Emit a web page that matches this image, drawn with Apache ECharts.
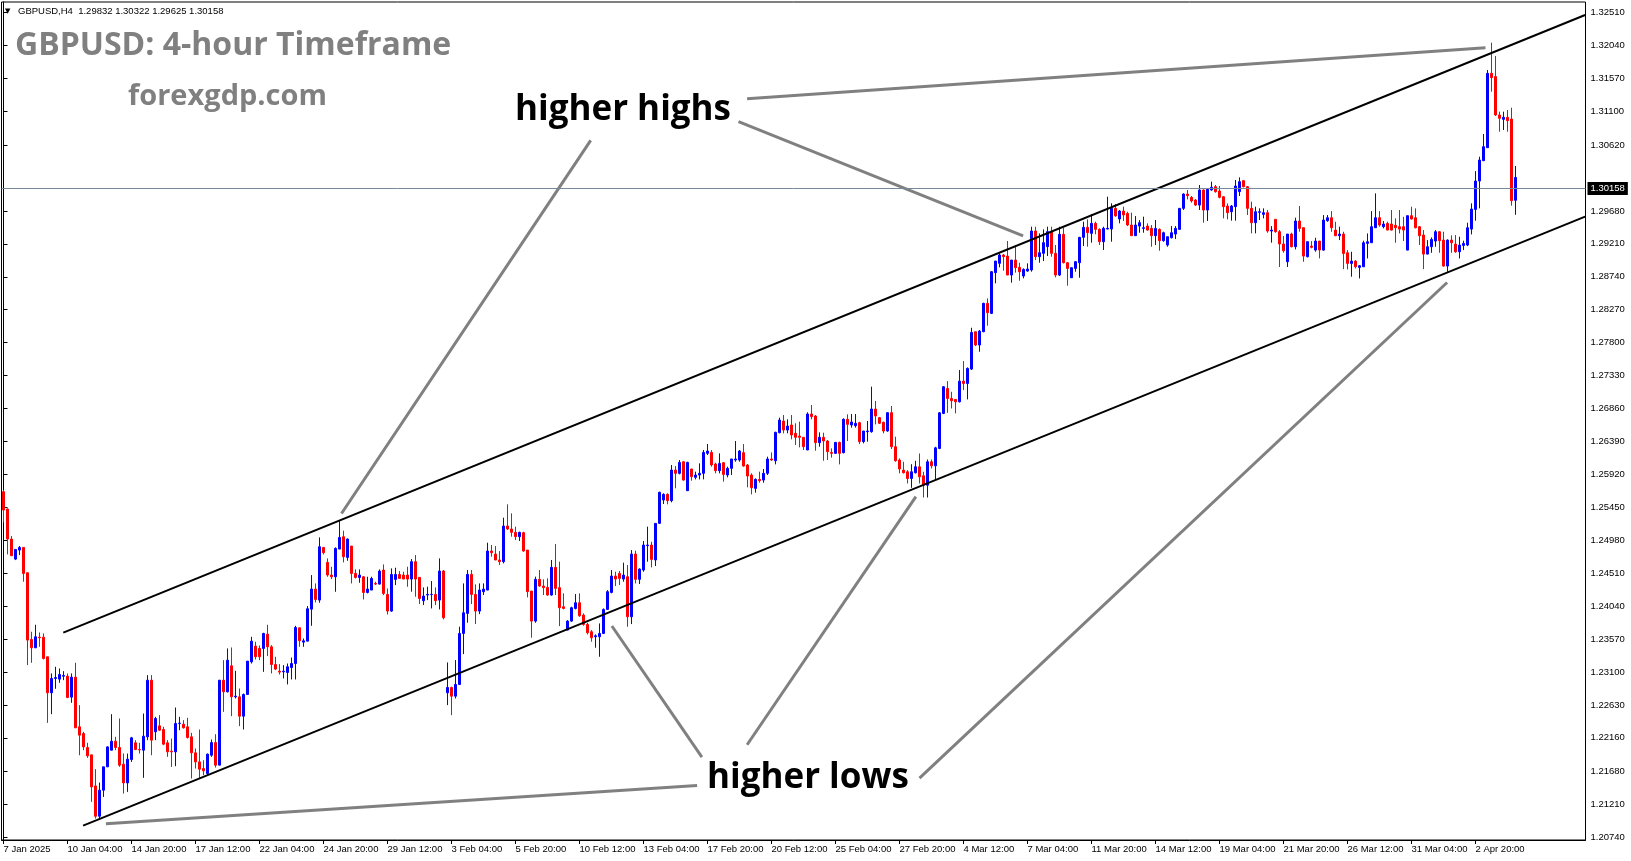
<!DOCTYPE html>
<html><head><meta charset="utf-8">
<script src="https://cdn.jsdelivr.net/npm/echarts@6/dist/echarts.min.js"></script>
<style>html,body{margin:0;padding:0;background:#fff}#c{width:1631px;height:861px}</style>
</head><body><div id="c"></div>
<script>
// ---------- data ----------
const symbolHeader = 'GBPUSD,H4  1.29832 1.30322 1.29625 1.30158';
const lastPrice = 1.30158;
const timeLabels = ['7 Jan 2025','10 Jan 04:00','14 Jan 20:00','17 Jan 12:00','22 Jan 04:00','24 Jan 20:00','29 Jan 12:00','3 Feb 04:00','5 Feb 20:00','10 Feb 12:00','13 Feb 04:00','17 Feb 20:00','20 Feb 12:00','25 Feb 04:00','27 Feb 20:00','4 Mar 12:00','7 Mar 04:00','11 Mar 20:00','14 Mar 12:00','19 Mar 04:00','21 Mar 20:00','26 Mar 12:00','31 Mar 04:00','2 Apr 20:00'];
const priceTicks = [1.20740,1.21210,1.21680,1.22160,1.22630,1.23100,1.23570,1.24040,1.24510,1.24980,1.25450,1.25920,1.26390,1.26860,1.27330,1.27800,1.28270,1.28740,1.29210,1.29680,1.30620,1.31100,1.31570,1.32040,1.32510];
// H4 bars: [open, high, low, close]
const ohlc = [
[1.25673,1.25697,1.25235,1.25411],[1.25425,1.25435,1.24778,1.24997],[1.24997,1.25040,1.24759,1.24759],[1.24711,1.24849,1.24697,1.24849],[1.24840,1.24897,1.24768,1.24878],
[1.24878,1.24878,1.24388,1.24507],[1.24516,1.24516,1.23198,1.23555],[1.23564,1.23674,1.23231,1.23445],[1.23445,1.23774,1.23445,1.23602],[1.23597,1.23664,1.23459,1.23588],
[1.23597,1.23650,1.23278,1.23293],[1.23317,1.23317,1.22374,1.22803],[1.22803,1.23079,1.22498,1.23007],[1.23007,1.23174,1.22860,1.23020],[1.22998,1.23150,1.22945,1.23064],
[1.23040,1.23112,1.22983,1.23050],[1.23040,1.23079,1.22726,1.22736],[1.22741,1.23079,1.22660,1.23026],[1.23026,1.23231,1.22303,1.22303],[1.22317,1.22627,1.21912,1.22198],
[1.22222,1.22246,1.21984,1.22031],[1.22022,1.22089,1.21874,1.21903],[1.21917,1.21917,1.21246,1.21460],[1.21474,1.21713,1.21008,1.21041],[1.21041,1.21522,1.20998,1.21413],
[1.21413,1.21746,1.21317,1.21746],[1.21746,1.22041,1.21746,1.22031],[1.21984,1.22498,1.21984,1.22112],[1.22112,1.22174,1.21984,1.22022],[1.22022,1.22436,1.21746,1.21770],
[1.21784,1.21936,1.21365,1.21517],[1.21517,1.21936,1.21389,1.21855],[1.21850,1.22174,1.21817,1.22160],[1.22089,1.22127,1.21984,1.21993],[1.21993,1.22089,1.21936,1.21989],
[1.21984,1.22507,1.21589,1.22184],[1.22174,1.23055,1.22127,1.22983],[1.22983,1.23055,1.21912,1.22127],[1.22246,1.22460,1.22127,1.22436],[1.22331,1.22484,1.22260,1.22269],
[1.22279,1.22317,1.22055,1.22070],[1.22089,1.22127,1.21889,1.21960],[1.21970,1.22150,1.21746,1.21960],[1.21960,1.22593,1.21755,1.22365],[1.22365,1.22460,1.22269,1.22370],
[1.22355,1.22412,1.22293,1.22303],[1.22317,1.22446,1.22150,1.22165],[1.22174,1.22231,1.21579,1.21946],[1.21946,1.22008,1.21722,1.21817],[1.21817,1.22279,1.21579,1.21713],
[1.21722,1.21841,1.21627,1.21689],[1.21651,1.21936,1.21627,1.21927],[1.21912,1.22136,1.21889,1.22093],[1.22093,1.22212,1.21736,1.21770],[1.21770,1.22983,1.21770,1.22983],
[1.22983,1.23269,1.22531,1.22817],[1.22817,1.23436,1.22807,1.23269],[1.23188,1.23450,1.22469,1.22745],[1.22745,1.23117,1.22722,1.22755],[1.22745,1.22864,1.22327,1.22469],
[1.22469,1.22793,1.22279,1.22779],[1.22779,1.23255,1.22779,1.23255],[1.23245,1.23602,1.23221,1.23540],[1.23469,1.23531,1.23278,1.23317],[1.23436,1.23478,1.23269,1.23317],
[1.23436,1.23659,1.23102,1.23650],[1.23640,1.23774,1.23326,1.23459],[1.23459,1.23483,1.23079,1.23207],[1.23207,1.23317,1.23126,1.23141],[1.23112,1.23212,1.23064,1.23098],
[1.23102,1.23198,1.23007,1.23112],[1.23093,1.23221,1.22922,1.23174],[1.23164,1.23307,1.22993,1.23221],[1.23221,1.23759,1.22993,1.23735],[1.23731,1.23731,1.23459,1.23545],
[1.23526,1.23578,1.23459,1.23545],[1.23540,1.24040,1.23540,1.24002],[1.23997,1.24483,1.23759,1.24283],[1.24283,1.24364,1.24092,1.24135],[1.24126,1.25021,1.24088,1.24887],
[1.24878,1.24878,1.24778,1.24802],[1.24664,1.24721,1.24459,1.24483],[1.24483,1.24602,1.24426,1.24459],[1.24459,1.24878,1.24245,1.24864],[1.24854,1.25254,1.24854,1.25021],
[1.25030,1.25116,1.24664,1.24745],[1.24735,1.25006,1.24687,1.24997],[1.24897,1.24897,1.24364,1.24507],[1.24507,1.24564,1.24435,1.24449],[1.24449,1.24564,1.24373,1.24483],
[1.24459,1.24469,1.24135,1.24235],[1.24235,1.24459,1.24221,1.24283],[1.24269,1.24459,1.24269,1.24435],[1.24364,1.24388,1.24340,1.24354],[1.24354,1.24564,1.24349,1.24540],
[1.24554,1.24635,1.24197,1.24221],[1.24207,1.24292,1.23921,1.23969],[1.23969,1.24578,1.23959,1.24492],[1.24421,1.24588,1.24340,1.24492],[1.24492,1.24540,1.24435,1.24435],
[1.24483,1.24530,1.24426,1.24426],[1.24483,1.24602,1.24316,1.24426],[1.24426,1.24712,1.24246,1.24674],[1.24674,1.24769,1.24174,1.24426],[1.24450,1.24450,1.24069,1.24150],
[1.24117,1.24307,1.24055,1.24184],[1.24198,1.24317,1.24126,1.24207],[1.24203,1.24398,1.24007,1.24207],[1.24207,1.24307,1.24055,1.24117],[1.24126,1.24721,1.23993,1.24541],
[1.24541,1.24555,1.23850,1.23874],[1.22803,1.23236,1.22627,1.22879],[1.22879,1.22889,1.22484,1.22755],[1.22755,1.23270,1.22722,1.22922],[1.22922,1.23746,1.22913,1.23650],
[1.23650,1.24364,1.23355,1.23945],[1.23936,1.24555,1.23803,1.24493],[1.24493,1.24555,1.24069,1.24207],[1.24207,1.24350,1.23784,1.23969],[1.23969,1.24364,1.23926,1.24269],
[1.24246,1.24364,1.24198,1.24283],[1.24269,1.24945,1.24269,1.24826],[1.24826,1.24912,1.24745,1.24802],[1.24783,1.24898,1.24698,1.24698],[1.24698,1.24826,1.24626,1.24674],
[1.24674,1.25302,1.24650,1.25183],[1.25183,1.25493,1.25126,1.25140],[1.25140,1.25364,1.25031,1.25093],[1.25093,1.25174,1.24983,1.25031],[1.25031,1.25102,1.24969,1.25093],
[1.25088,1.25102,1.24817,1.24826],[1.24840,1.24840,1.24165,1.24246],[1.24255,1.24255,1.23589,1.23826],[1.23826,1.24460,1.23803,1.24422],[1.24422,1.24555,1.24317,1.24326],
[1.24326,1.24422,1.24198,1.24303],[1.24307,1.24436,1.24188,1.24198],[1.24198,1.24698,1.24188,1.24593],[1.24593,1.24926,1.24198,1.24293],[1.24303,1.24674,1.23755,1.24017],
[1.24031,1.24222,1.23993,1.24007],[1.23698,1.23840,1.23698,1.23826],[1.23826,1.24031,1.23817,1.24017],[1.24007,1.24212,1.23993,1.24088],[1.24088,1.24222,1.23888,1.23902],
[1.23912,1.23936,1.23760,1.23779],[1.23779,1.23803,1.23636,1.23660],[1.23674,1.23698,1.23532,1.23589],[1.23603,1.23636,1.23446,1.23617],[1.23603,1.23793,1.23317,1.23650],
[1.23650,1.24007,1.23641,1.23993],[1.23993,1.24269,1.23984,1.24246],[1.24236,1.24555,1.24222,1.24469],[1.24469,1.24531,1.24326,1.24426],[1.24507,1.24541,1.24341,1.24436],
[1.24426,1.24660,1.24388,1.24483],[1.24460,1.24626,1.23746,1.23888],[1.23888,1.24840,1.23784,1.24783],[1.24783,1.24831,1.24364,1.24422],[1.24422,1.24579,1.24355,1.24569],
[1.24555,1.24969,1.24531,1.24912],[1.24902,1.25174,1.24674,1.24912],[1.24912,1.24959,1.24593,1.24707],[1.24698,1.25221,1.24612,1.25221],[1.25221,1.25673,1.25221,1.25664],
[1.25554,1.25650,1.25497,1.25635],[1.25635,1.25650,1.25493,1.25545],[1.25545,1.26054,1.25521,1.25982],[1.25982,1.26039,1.25721,1.25935],[1.25935,1.26125,1.25920,1.26091],
[1.26101,1.26101,1.25830,1.25839],[1.25687,1.26101,1.25687,1.26091],[1.25997,1.25997,1.25830,1.25887],[1.25878,1.25959,1.25849,1.25911],[1.25911,1.26077,1.25849,1.25935],
[1.25935,1.26268,1.25849,1.26234],[1.26220,1.26353,1.26197,1.26253],[1.26234,1.26268,1.26030,1.26054],[1.26068,1.26087,1.25935,1.25973],[1.25973,1.26220,1.25935,1.26077],
[1.26087,1.26096,1.25816,1.25920],[1.25911,1.26030,1.25878,1.26006],[1.26006,1.26140,1.25911,1.26140],[1.26125,1.26396,1.26101,1.26140],[1.26125,1.26268,1.26101,1.26253],
[1.26230,1.26353,1.26030,1.26039],[1.26054,1.26068,1.25735,1.25897],[1.25911,1.25935,1.25635,1.25730],[1.25720,1.25863,1.25659,1.25849],[1.25849,1.25959,1.25801,1.25830],
[1.25839,1.25997,1.25801,1.25935],[1.25935,1.26173,1.25911,1.26140],[1.26140,1.26234,1.26115,1.26125],[1.26115,1.26529,1.26063,1.26520],[1.26515,1.26730,1.26506,1.26696],
[1.26682,1.26768,1.26506,1.26553],[1.26553,1.26706,1.26506,1.26610],[1.26625,1.26768,1.26420,1.26482],[1.26506,1.26649,1.26339,1.26449],[1.26468,1.26672,1.26306,1.26449],
[1.26449,1.26449,1.26268,1.26315],[1.26268,1.26806,1.26268,1.26782],[1.26782,1.26910,1.26706,1.26744],[1.26753,1.26768,1.26258,1.26373],[1.26373,1.26520,1.26315,1.26449],
[1.26449,1.26515,1.26115,1.26396],[1.26396,1.26411,1.26125,1.26244],[1.26234,1.26292,1.26159,1.26220],[1.26220,1.26377,1.26220,1.26377],[1.26377,1.26387,1.26063,1.26220],
[1.26230,1.26720,1.26220,1.26706],[1.26706,1.26777,1.26396,1.26634],[1.26625,1.26782,1.26587,1.26668],[1.26615,1.26782,1.26587,1.26649],[1.26658,1.26672,1.26353,1.26387],
[1.26387,1.26539,1.26363,1.26539],[1.26529,1.26682,1.26387,1.26539],[1.26529,1.27172,1.26515,1.26853],[1.26853,1.26968,1.26634,1.26753],[1.26730,1.26740,1.26639,1.26649],
[1.26663,1.26672,1.26506,1.26539],[1.26539,1.26806,1.26529,1.26801],[1.26801,1.26896,1.26282,1.26315],[1.26315,1.26458,1.26101,1.26115],[1.26125,1.26149,1.25935,1.25997],
[1.25981,1.26100,1.25933,1.25943],[1.25957,1.25981,1.25790,1.25862],[1.25862,1.26066,1.25728,1.25957],[1.25943,1.26114,1.25933,1.26028],[1.26028,1.26219,1.25790,1.25886],
[1.25900,1.25957,1.25590,1.25766],[1.25766,1.26133,1.25590,1.26100],[1.26100,1.26133,1.26004,1.26042],[1.26042,1.26314,1.25838,1.26299],[1.26290,1.26809,1.26280,1.26799],
[1.26790,1.27180,1.26780,1.27171],[1.27147,1.27251,1.26799,1.27004],[1.27004,1.27099,1.26861,1.26971],[1.26990,1.26995,1.26790,1.26956],[1.26956,1.27409,1.26947,1.27251],
[1.27251,1.27537,1.27123,1.27218],[1.27218,1.27447,1.26990,1.27433],[1.27423,1.28013,1.27409,1.27946],[1.27956,1.27956,1.27751,1.27766],[1.27766,1.27980,1.27670,1.27965],
[1.27956,1.28370,1.27950,1.28361],[1.28361,1.28432,1.28042,1.28227],[1.28218,1.28822,1.28208,1.28813],[1.28799,1.28965,1.28646,1.28965],[1.28932,1.29075,1.28875,1.29051],
[1.29051,1.29065,1.28827,1.29027],[1.29036,1.29251,1.28765,1.28765],[1.28765,1.28979,1.28656,1.28979],[1.28979,1.29194,1.28799,1.28870],[1.28875,1.28941,1.28684,1.28813],
[1.28751,1.28860,1.28718,1.28846],[1.28822,1.28932,1.28813,1.28851],[1.28837,1.29455,1.28813,1.29394],[1.29394,1.29455,1.28979,1.29027],[1.29027,1.29360,1.28941,1.29084],
[1.29075,1.29417,1.28965,1.29227],[1.29170,1.29455,1.29036,1.29384],[1.29384,1.29455,1.29027,1.29075],[1.29075,1.29194,1.28732,1.28765],[1.28765,1.29455,1.28751,1.29346],
[1.29346,1.29441,1.28932,1.28941],[1.28941,1.28950,1.28613,1.28860],[1.28727,1.28875,1.28722,1.28870],[1.28860,1.28965,1.28813,1.28956],[1.28941,1.29310,1.28727,1.29303],
[1.29303,1.29527,1.29179,1.29446],[1.29446,1.29560,1.29170,1.29370],[1.29360,1.29636,1.29227,1.29503],[1.29503,1.29527,1.29346,1.29417],[1.29417,1.29432,1.29194,1.29241],
[1.29241,1.29455,1.29122,1.29432],[1.29422,1.29884,1.29417,1.29432],[1.29422,1.29789,1.29241,1.29717],[1.29717,1.29779,1.29600,1.29608],[1.29565,1.29693,1.29503,1.29679],
[1.29679,1.29741,1.29536,1.29622],[1.29645,1.29669,1.29464,1.29479],[1.29479,1.29655,1.29322,1.29327],[1.29327,1.29607,1.29322,1.29479],[1.29464,1.29550,1.29369,1.29512],
[1.29431,1.29598,1.29369,1.29441],[1.29464,1.29503,1.29398,1.29407],[1.29431,1.29479,1.29169,1.29327],[1.29327,1.29550,1.29193,1.29431],[1.29417,1.29431,1.29112,1.29255],
[1.29255,1.29384,1.29241,1.29369],[1.29193,1.29312,1.29169,1.29312],[1.29298,1.29464,1.29288,1.29369],[1.29350,1.29464,1.29279,1.29431],[1.29417,1.29717,1.29417,1.29717],
[1.29717,1.29931,1.29693,1.29921],[1.29921,1.29979,1.29845,1.29898],[1.29874,1.29893,1.29798,1.29822],[1.29836,1.29850,1.29750,1.29764],[1.29764,1.30050,1.29693,1.29979],
[1.29979,1.29988,1.29512,1.29693],[1.29693,1.29988,1.29536,1.29988],[1.29979,1.30098,1.29969,1.30017],[1.30026,1.30050,1.29941,1.29955],[1.29964,1.30036,1.29860,1.29874],
[1.29883,1.29893,1.29574,1.29741],[1.29750,1.29788,1.29560,1.29655],[1.29669,1.29764,1.29541,1.29750],[1.29741,1.30121,1.29541,1.30036],[1.29955,1.30159,1.29893,1.30098],
[1.30112,1.30121,1.30017,1.30026],[1.30026,1.30036,1.29622,1.29717],[1.29717,1.29812,1.29360,1.29512],[1.29512,1.29741,1.29360,1.29669],[1.29660,1.29717,1.29550,1.29669],
[1.29631,1.29717,1.29574,1.29655],[1.29655,1.29693,1.29369,1.29393],[1.29393,1.29464,1.29227,1.29407],[1.29560,1.29560,1.29369,1.29384],[1.29384,1.29407,1.28880,1.29208],
[1.29208,1.29322,1.29084,1.29112],[1.28955,1.29350,1.28880,1.29350],[1.29350,1.29369,1.29160,1.29169],[1.29169,1.29584,1.29131,1.29536],[1.29536,1.29750,1.29384,1.29431],
[1.29441,1.29441,1.28955,1.29036],[1.29027,1.29241,1.29017,1.29241],[1.29179,1.29250,1.29146,1.29160],[1.29122,1.29298,1.29098,1.29250],[1.29250,1.29250,1.29003,1.29122],
[1.29121,1.29621,1.29111,1.29550],[1.29540,1.29621,1.29526,1.29583],[1.29583,1.29678,1.29383,1.29440],[1.29407,1.29526,1.29321,1.29326],[1.29326,1.29455,1.29264,1.29350],
[1.29350,1.29383,1.28850,1.29074],[1.29083,1.29121,1.28845,1.28931],[1.28931,1.29097,1.28741,1.28964],[1.28964,1.28978,1.28859,1.28883],[1.28874,1.28907,1.28717,1.28898],
[1.28883,1.29255,1.28883,1.29226],[1.29217,1.29359,1.29002,1.29240],[1.29226,1.29678,1.29226,1.29455],[1.29440,1.29931,1.29440,1.29583],[1.29583,1.29678,1.29455,1.29478],
[1.29455,1.29536,1.29431,1.29493],[1.29502,1.29526,1.29407,1.29407],[1.29493,1.29693,1.29400,1.29407],[1.29474,1.29574,1.29226,1.29440],[1.29455,1.29693,1.29359,1.29421],
[1.29455,1.29597,1.29250,1.29407],[1.29121,1.29612,1.29121,1.29612],[1.29612,1.29740,1.29560,1.29564],[1.29583,1.29717,1.29431,1.29440],[1.29455,1.29464,1.29193,1.29326],
[1.29336,1.29407,1.28850,1.29064],[1.29064,1.29264,1.29060,1.29169],[1.29169,1.29302,1.29083,1.29274],[1.29250,1.29407,1.29169,1.29383],[1.29383,1.29393,1.29083,1.29255],
[1.29264,1.29383,1.28883,1.28893],[1.28893,1.29274,1.28812,1.29264],[1.29264,1.29331,1.29083,1.29226],[1.29207,1.29336,1.29083,1.29097],[1.29097,1.29312,1.29002,1.29193],
[1.29188,1.29255,1.29121,1.29217],[1.29193,1.29512,1.29178,1.29440],[1.29421,1.29788,1.29345,1.29707],[1.29702,1.30249,1.29540,1.30107],[1.30107,1.30454,1.29717,1.30407],
[1.30397,1.30778,1.30392,1.30597],[1.30583,1.31692,1.30583,1.31644],[1.31644,1.32082,1.31382,1.31582],[1.31597,1.31892,1.31035,1.31049],[1.31049,1.31097,1.30811,1.31002],
[1.30987,1.31097,1.30835,1.31016],[1.31016,1.31121,1.30811,1.30968],[1.30992,1.31154,1.29755,1.29826],[1.29832,1.30322,1.29625,1.30158]
];
// trend channel ([bar index, price] end points)
const channelUpper = [[14.95,1.23661],[395.4,1.32477]];
const channelLower = [[19.9,1.20907],[395.4,1.29598]];
// pointer lines from the annotations
const highPointers = [
  [[185.9,1.31281],[370.5,1.32009]],
  [[183.75,1.30954],[254.9,1.29323]],
  [[146.8,1.30687],[84.5,1.25362]]
];
const lowPointers = [
  [[173.4,1.21481],[25.6,1.20933]],
  [[174.6,1.21886],[152.1,1.23756]],
  [[185.9,1.22061],[228.1,1.25602]],
  [[229.0,1.21585],[360.9,1.28659]]
];

// ---------- chart ----------
const SLOTS = 396;           // bar slots incl. empty space at the right
const LABEL_EVERY = 16;
const categories = Array.from({length: SLOTS}, (_, i) => String(i));
const candleData = ohlc.map(r => [r[0], r[3], r[2], r[1]]);
const showTick = (i) => i % LABEL_EVERY === 0 && (i / LABEL_EVERY) < timeLabels.length;
const smallFont = '"Liberation Sans", Arial, sans-serif';
const SMALL = 9.5;

const lineSeries = (pts, color, width) => ({
  type: 'line', xAxisIndex: 1, yAxisIndex: 0, data: pts, symbol: 'none',
  silent: true, z: 4, animation: false,
  lineStyle: { color: color, width: width }
});

const series = [{
  type: 'candlestick', xAxisIndex: 0, yAxisIndex: 0, data: candleData,
  barWidth: 2,
  itemStyle: { color: '#0000FF', color0: '#FF0000', borderColor: '#0000FF', borderColor0: '#FF0000', borderWidth: 1 },
  markLine: {
    silent: true, symbol: ['none', 'none'], animation: false,
    lineStyle: { color: '#778899', width: 1, type: 'solid' },
    label: { show: true, position: 'end', distance: 2, formatter: lastPrice.toFixed(5),
      backgroundColor: '#000', color: '#fff', padding: [2, 3, 1, 3], fontSize: SMALL, fontFamily: smallFont },
    data: [{ yAxis: lastPrice }]
  }
}];
series.push(lineSeries(channelUpper, '#000', 2));
series.push(lineSeries(channelLower, '#000', 2));
highPointers.forEach(p => series.push(lineSeries(p, '#808080', 3)));
lowPointers.forEach(p => series.push(lineSeries(p, '#808080', 3)));

const chart = echarts.init(document.getElementById('c'), null, { renderer: 'canvas' });
chart.setOption({
  animation: false,
  backgroundColor: '#fff',
  grid: { left: 1.5, top: 2, width: 1584, height: 838, show: true, borderColor: '#000', borderWidth: 1, backgroundColor: '#fff' },
  xAxis: [{
    type: 'category', data: categories, boundaryGap: true,
    axisLine: { show: true, lineStyle: { color: '#000', width: 1 } },
    axisTick: { show: true, alignWithLabel: true, interval: showTick, length: 4, lineStyle: { color: '#000' } },
    axisLabel: { show: true, interval: showTick, hideOverlap: false, formatter: (v, i) => timeLabels[i / LABEL_EVERY] || '',
      align: 'left', margin: 4, fontSize: SMALL, color: '#000', fontFamily: smallFont },
    splitLine: { show: false }
  }, {
    type: 'value', min: -0.5, max: SLOTS - 0.5, show: false
  }],
  yAxis: [{
    type: 'value', position: 'right', min: 1.20702, max: 1.32662,
    axisLine: { show: true, lineStyle: { color: '#000', width: 1 } },
    axisTick: { show: true, customValues: priceTicks, length: 4, lineStyle: { color: '#000' } },
    axisLabel: { show: true, customValues: priceTicks, formatter: v => v.toFixed(5), margin: 5,
      fontSize: SMALL, color: '#000', fontFamily: smallFont },
    splitLine: { show: false }
  }],
  series: series,
  graphic: [
    { type: 'text', z: 100, style: { x: 5, y: 11, text: '▼', fontSize: 7, fill: '#000', verticalAlign: 'middle', fontFamily: 'DejaVu Sans' } },
    { type: 'text', z: 100, style: { x: 18, y: 11, text: symbolHeader, fontSize: SMALL, fill: '#000', verticalAlign: 'middle', fontFamily: smallFont } },
    { type: 'text', z: 100, style: { x: 15, y: 46, text: 'GBPUSD: 4-hour Timeframe', fontSize: 32, fontWeight: 'bold', fill: '#808080', verticalAlign: 'middle', fontFamily: '"Open Sans", sans-serif' } },
    { type: 'text', z: 100, style: { x: 128, y: 97, text: 'forexgdp.com', fontSize: 29, fontWeight: 'bold', fill: '#808080', verticalAlign: 'middle', fontFamily: '"Open Sans", sans-serif' } },
    { type: 'text', z: 100, style: { x: 515, y: 110, text: 'higher highs', fontSize: 35, fontWeight: 'bold', fill: '#000', verticalAlign: 'middle', fontFamily: '"Open Sans", sans-serif' } },
    { type: 'text', z: 100, style: { x: 707, y: 778, text: 'higher lows', fontSize: 35, fontWeight: 'bold', fill: '#000', verticalAlign: 'middle', fontFamily: '"Open Sans", sans-serif' } }
  ]
});
</script>
</body></html>
